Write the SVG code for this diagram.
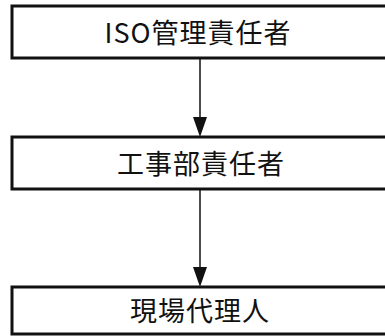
<svg xmlns="http://www.w3.org/2000/svg" width="385" height="336" viewBox="0 0 385 336">
<defs>
<style>
.box{fill:#fff;stroke:#111;stroke-width:3}
.lbl{font-family:"Noto Sans CJK JP","Noto Sans",sans-serif;font-size:27px;fill:#111;text-anchor:middle;letter-spacing:1px}
.con{stroke:#111;stroke-width:1.5;fill:none}
.head{fill:#111}
</style>
</defs>
<rect width="385" height="336" fill="#fff"/>
<g id="connectors">
<line class="con" x1="200" y1="58" x2="200" y2="117"/>
<path class="head" d="M193,117 L207,117 L200,137 Z"/>
<line class="con" x1="200" y1="189" x2="200" y2="267"/>
<path class="head" d="M193,267 L207,267 L200,287 Z"/>
</g>
<g id="node1">
<rect class="box" x="12" y="6" width="380" height="52"/>
<text class="lbl" x="198" y="43">ISO管理責任者</text>
</g>
<g id="node2">
<rect class="box" x="12" y="137" width="380" height="52"/>
<text class="lbl" x="201" y="174">工事部責任者</text>
</g>
<g id="node3">
<rect class="box" x="12" y="287" width="380" height="47"/>
<text class="lbl" x="200" y="321">現場代理人</text>
</g>
</svg>
